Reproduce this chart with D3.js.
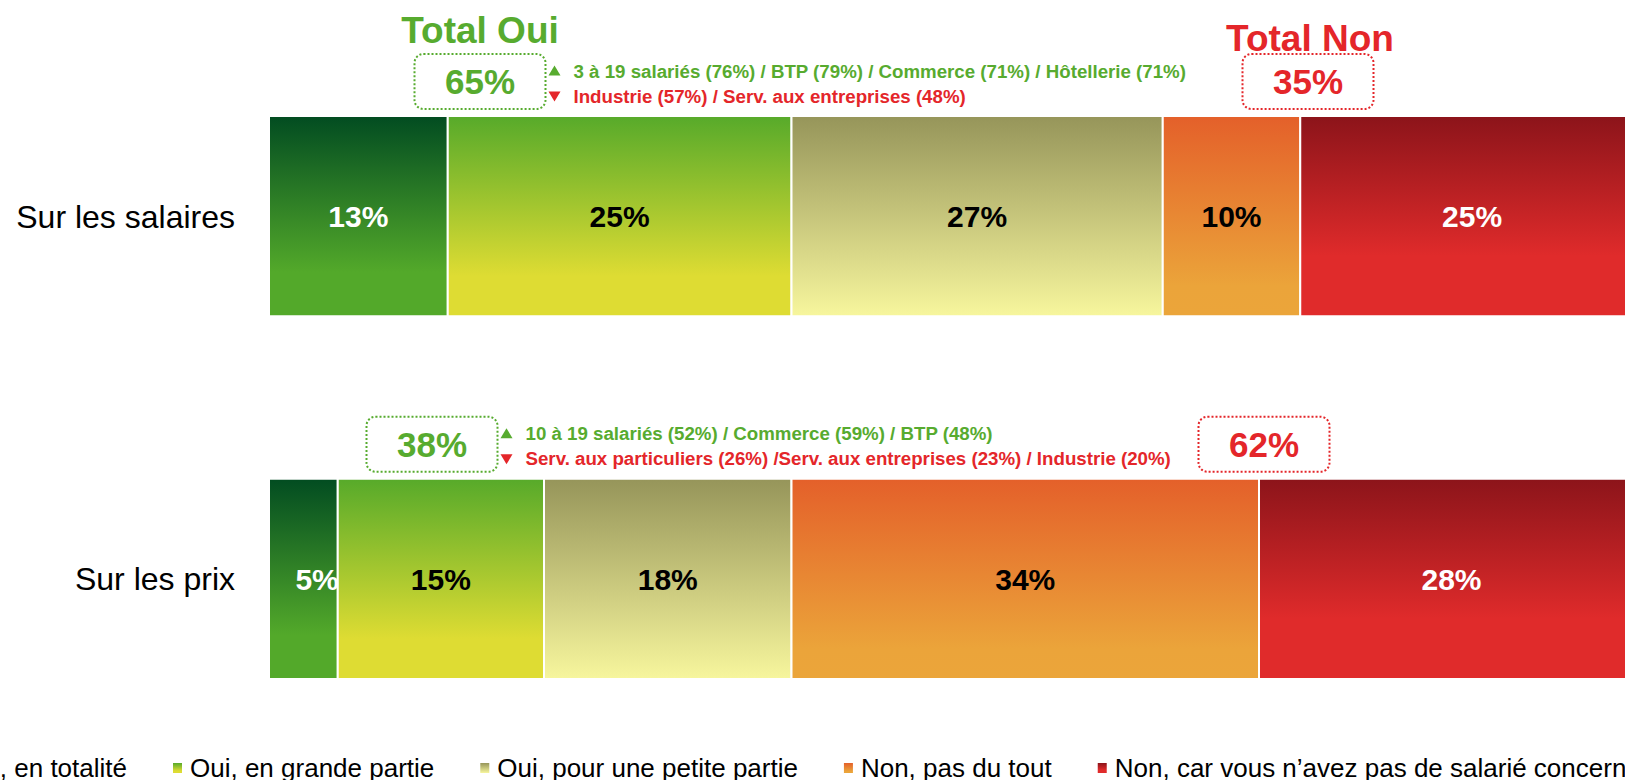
<!DOCTYPE html>
<html>
<head>
<meta charset="utf-8">
<script src="https://cdn.jsdelivr.net/npm/d3@7"></script>
<style>
  html, body { margin: 0; padding: 0; background: #fff; overflow: hidden; }
  svg { display: block; font-family: "Liberation Sans", Arial, sans-serif; }
</style>
</head>
<body>
<div id="chart"></div>
<script>
// data
const categories = ['Sur les salaires', 'Sur les prix'];
const seriesNames = [
    'Oui, en totalité',
    'Oui, en grande partie',
    'Oui, pour une petite partie',
    'Non, pas du tout',
    'Non, car vous n’avez pas de salarié concerné'
];
const salairesValues = [13, 25, 27, 10, 25];
const prixValues = [5, 15, 18, 34, 28];
const upNotes = [
    '3 à 19 salariés (76%) / BTP (79%) / Commerce (71%) / Hôtellerie (71%)',
    '10 à 19 salariés (52%) / Commerce (59%) / BTP (48%)'
];
const downNotes = [
    'Industrie (57%) / Serv. aux entreprises (48%)',
    'Serv. aux particuliers (26%) /Serv. aux entreprises (23%) / Industrie (20%)'
];

// styles
const gradStops = [
    [['0', '#024c21'], ['0.78', '#53a92a'], ['1', '#53a92a']],
    [['0', '#57aa2a'], ['0.8', '#dedc33'], ['1', '#dedc33']],
    [['0', '#96955a'], ['1', '#f7f69d']],
    [['0', '#e4602a'], ['0.85', '#eba43a'], ['1', '#eba53a']],
    [['0', '#8c141a'], ['0.7', '#e02b2b'], ['1', '#e02b2b']]
];
const labelColors = ['#fff', '#000', '#000', '#000', '#fff'];
const green = '#57ab2f';
const red = '#e4262a';

const width = 1625, height = 780;

const svg = d3.select('#chart')
    .append('svg')
    .attr('width', width)
    .attr('height', height);

const defs = svg.append('defs');
gradStops.forEach((stops, i) => {
    const g = defs.append('linearGradient')
        .attr('id', 'grad' + i)
        .attr('x1', 0).attr('y1', 0).attr('x2', 0).attr('y2', 1);
    stops.forEach(s => g.append('stop').attr('offset', s[0]).attr('stop-color', s[1]));
});

// scales
const xScale = d3.scaleLinear().domain([0, 100]).range([269, 1644]);
const yScale = d3.scaleBand()
    .domain(categories)
    .range([116, 679])
    .paddingInner(0.448)
    .paddingOuter(0);

const rows = [salairesValues, prixValues].map((vals, r) => {
    let acc = 0;
    return {
        cat: categories[r],
        segs: vals.map((v, i) => {
            const s = { i: i, v: v, x0: acc, x1: acc + v };
            acc += v;
            return s;
        })
    };
});

// category labels
svg.selectAll('.cat-label')
    .data(categories)
    .enter()
    .append('text')
    .attr('class', 'cat-label')
    .attr('x', 235)
    .attr('y', d => yScale(d) + yScale.bandwidth() / 2)
    .attr('dy', '0.36em')
    .attr('text-anchor', 'end')
    .style('font-size', '32px')
    .style('fill', '#000')
    .text(d => d);

// bars
const rowG = svg.selectAll('.row')
    .data(rows)
    .enter()
    .append('g')
    .attr('class', 'row')
    .attr('transform', d => `translate(0, ${yScale(d.cat)})`);

rowG.selectAll('rect')
    .data(d => d.segs)
    .enter()
    .append('rect')
    .attr('x', d => xScale(d.x0))
    .attr('y', 0)
    .attr('width', d => xScale(d.x1) - xScale(d.x0))
    .attr('height', yScale.bandwidth())
    .style('fill', d => `url(#grad${d.i})`)
    .style('stroke', '#fff')
    .style('stroke-width', 2);

rowG.selectAll('.val')
    .data(d => d.segs)
    .enter()
    .append('text')
    .attr('class', 'val')
    .attr('x', d => {
        const w = xScale(d.x1) - xScale(d.x0);
        return w < 80 ? xScale(d.x1) + 1 : (xScale(d.x0) + xScale(d.x1)) / 2;
    })
    .attr('text-anchor', d => (xScale(d.x1) - xScale(d.x0)) < 80 ? 'end' : 'middle')
    .attr('y', yScale.bandwidth() / 2)
    .attr('dy', '0.36em')
    .style('font-size', '30px')
    .style('font-weight', 'bold')
    .style('fill', d => labelColors[d.i])
    .text(d => d.v + '%');

// totals annotations
const ouiBoxX = [480, 432];
const nonBoxX = [1308, 1264];
const boxW = 131, boxH = 55;

rows.forEach((row, r) => {
    const totOui = d3.sum(row.segs.filter(s => s.i < 3), s => s.v);
    const totNon = d3.sum(row.segs.filter(s => s.i >= 3), s => s.v);
    const top = yScale(row.cat) - 62;
    const cy = top + boxH / 2;

    [[ouiBoxX[r], totOui, green], [nonBoxX[r], totNon, red]].forEach(b => {
        svg.append('rect')
            .attr('x', b[0] - boxW / 2)
            .attr('y', top)
            .attr('width', boxW)
            .attr('height', boxH)
            .attr('rx', 9)
            .style('fill', 'none')
            .style('stroke', b[2])
            .style('stroke-width', 2)
            .style('stroke-dasharray', '2 2');
        svg.append('text')
            .attr('x', b[0])
            .attr('y', cy)
            .attr('dy', '0.36em')
            .attr('text-anchor', 'middle')
            .style('font-size', '35px')
            .style('font-weight', 'bold')
            .style('fill', b[2])
            .text(b[1] + '%');
    });

    // notes next to the green box
    const bx = ouiBoxX[r] + boxW / 2;
    const upY = cy - 8, downY = cy + 15;
    svg.append('path')
        .attr('d', `M${bx + 3},${upY + 2}L${bx + 15},${upY + 2}L${bx + 9},${upY - 8}Z`)
        .style('fill', green);
    svg.append('path')
        .attr('d', `M${bx + 3},${downY - 5}L${bx + 15},${downY - 5}L${bx + 9},${downY + 5}Z`)
        .style('fill', red);
    svg.append('text')
        .attr('x', bx + 28)
        .attr('y', upY + 4)
        .style('font-size', '18.7px')
        .style('font-weight', 'bold')
        .style('fill', green)
        .text(upNotes[r]);
    svg.append('text')
        .attr('x', bx + 28)
        .attr('y', downY + 6)
        .style('font-size', '18.7px')
        .style('font-weight', 'bold')
        .style('fill', red)
        .text(downNotes[r]);
});

svg.append('text')
    .attr('x', ouiBoxX[0])
    .attr('y', 43)
    .attr('text-anchor', 'middle')
    .style('font-size', '37px')
    .style('font-weight', 'bold')
    .style('fill', green)
    .text('Total Oui');

svg.append('text')
    .attr('x', nonBoxX[0] + 2)
    .attr('y', 51)
    .attr('text-anchor', 'middle')
    .style('font-size', '37px')
    .style('font-weight', 'bold')
    .style('fill', red)
    .text('Total Non');

// legend
const legend = svg.append('g').attr('class', 'legend');
const items = legend.selectAll('.item')
    .data(seriesNames)
    .enter()
    .append('g')
    .attr('class', 'item');

items.append('rect')
    .attr('x', 0)
    .attr('y', 763)
    .attr('width', 9)
    .attr('height', 10)
    .style('fill', (d, i) => `url(#grad${i})`);

items.append('text')
    .attr('x', 17)
    .attr('y', 777)
    .style('font-size', '26px')
    .style('fill', '#000')
    .text(d => d);

const widths = [];
items.each(function () {
    widths.push(d3.select(this).select('text').node().getComputedTextLength() + 17);
});
const gap = 46;
const offsets = [];
offsets[1] = 173;
offsets[0] = offsets[1] - gap - widths[0];
for (let i = 2; i < widths.length; i++) offsets[i] = offsets[i - 1] + widths[i - 1] + gap;
items.attr('transform', (d, i) => `translate(${offsets[i]}, 0)`);
</script>
</body>
</html>
